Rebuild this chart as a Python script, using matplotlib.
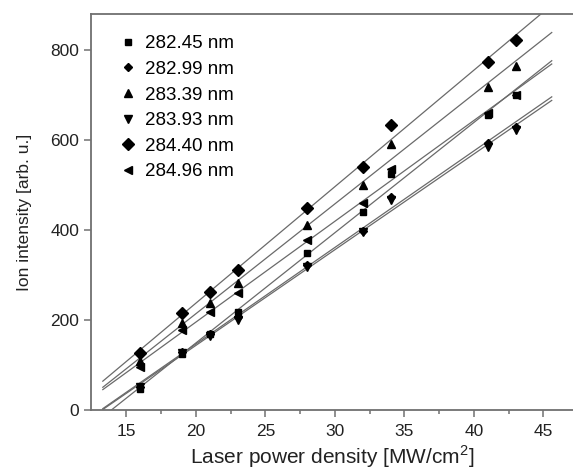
import numpy as np
import matplotlib
matplotlib.use('Agg')
import matplotlib.pyplot as plt

plt.rcParams['font.family'] = ['Liberation Sans', 'DejaVu Sans']
plt.rcParams['mathtext.fontset'] = 'custom'
plt.rcParams['mathtext.rm'] = 'Liberation Sans'

# laser power density [MW/cm^2]
power = [16, 19, 21, 23, 28, 32, 34, 41, 43]

# ion intensity for each wavelength
s28245 = [46, 125, 169, 218, 349, 440, 525, 655, 700]
s28299 = [52, 129, 169, 207, 322, 398, 473, 593, 629]
s28339 = [108, 194, 237, 282, 411, 500, 591, 718, 764]
s28393 = [50, 127, 165, 200, 318, 396, 467, 584, 622]
s28440 = [126, 215, 262, 310, 449, 540, 633, 773, 822]
s28496 = [96, 178, 217, 259, 378, 460, 535, 660, 700]

labels = ['282.45 nm', '282.99 nm', '283.39 nm', '283.93 nm', '284.40 nm', '284.96 nm']
series = [s28245, s28299, s28339, s28393, s28440, s28496]
markers = ['s', 'D', '^', 'v', 'D', '<']
msizes = [4.2, 4.0, 6.0, 6.0, 6.0, 6.0]

fig = plt.figure(figsize=(5.73, 4.70), dpi=100)
ax = fig.add_axes([0.1588, 0.1277, 0.8412, 0.8426])

xfit = np.linspace(13.3, 45.6, 50)
for y, m, ms, lab in zip(series, markers, msizes, labels):
    k, b = np.polyfit(power, y, 1)
    ax.plot(xfit, k * xfit + b, color='#6a6a6a', lw=0.9, zorder=1)
    ax.plot(power, y, ls='none', marker=m, ms=ms, color='black', label=lab, zorder=2)

ax.set_xlim(12.45, 47.13)
ax.set_ylim(0, 880)
ax.set_xticks([15, 20, 25, 30, 35, 40, 45])
ax.set_xticks(np.arange(17.5, 46, 5), minor=True)
ax.set_yticks([0, 200, 400, 600, 800])

for s in ['left', 'bottom', 'top']:
    ax.spines[s].set_color('#707070')
    ax.spines[s].set_linewidth(1.3)
ax.spines['right'].set_visible(False)
ax.tick_params(which='major', direction='out', length=5, width=1.1, color='#707070',
               labelsize=12.5, labelcolor='#222222')
ax.tick_params(axis='x', which='major', pad=5)
ax.tick_params(which='minor', direction='out', length=3, width=1.1, color='#707070')

ax.set_xlabel('Laser power density [MW/cm$^2$]', fontsize=15, color='#222222', labelpad=3)
ax.set_ylabel('Ion intensity [arb. u.]', fontsize=12.5, color='#222222', labelpad=13)

leg = ax.legend(loc='upper left', frameon=False, fontsize=13.5, handlelength=0.8,
                handletextpad=0.5, labelspacing=0.45, borderaxespad=0.0,
                bbox_to_anchor=(0.045, 0.965))

fig.savefig('out.png', dpi=100)
